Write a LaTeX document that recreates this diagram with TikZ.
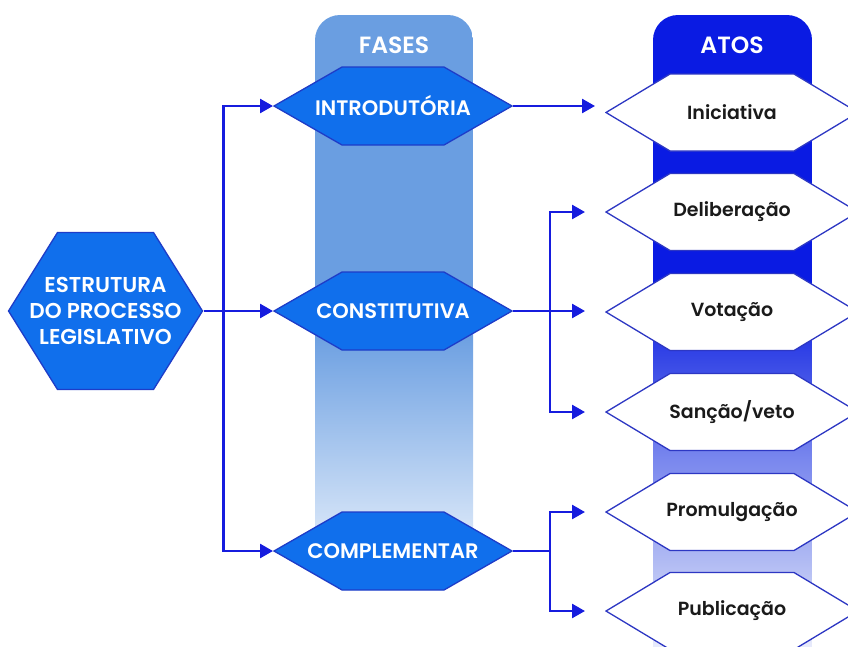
\documentclass[tikz,border=0pt]{standalone}
\usepackage{fontspec}
\setmainfont{Poppins}
\IfFontExistsTF{Poppins SemiBold}{\newfontfamily\semib{Poppins SemiBold}}{\newcommand\semib{\bfseries}}
\usetikzlibrary{arrows.meta}
\definecolor{fasestop}{RGB}{106,158,225}
\definecolor{faseslow}{RGB}{210,226,247}
\definecolor{atostop}{RGB}{10,27,227}
\definecolor{atosmid}{RGB}{55,72,230}
\definecolor{atosla}{RGB}{122,136,238}
\definecolor{atoslb}{RGB}{176,186,243}
\definecolor{atoslc}{RGB}{232,235,251}
\definecolor{hexblue}{RGB}{16,111,236}
\definecolor{hexedge}{RGB}{30,60,200}
\definecolor{lineblue}{RGB}{22,28,222}
\definecolor{atosedge}{RGB}{45,55,195}
\definecolor{txtdark}{RGB}{26,26,26}
\tikzset{
  hexagon/.style n args={4}{minimum width=#1, minimum height=#2, inner sep=0pt, outer sep=0pt,
    path picture={\path[#4]
      ([xshift=1pt]path picture bounding box.west)
      -- ([xshift=#3,yshift=-1pt]path picture bounding box.north west)
      -- ([xshift=-#3,yshift=-1pt]path picture bounding box.north east)
      -- ([xshift=-1pt]path picture bounding box.east)
      -- ([xshift=-#3,yshift=1pt]path picture bounding box.south east)
      -- ([xshift=#3,yshift=1pt]path picture bounding box.south west) -- cycle;}},
  bluepaint/.style={fill=hexblue, draw=hexedge, line width=1.3pt},
  whitepaint/.style={fill=white, draw=atosedge, line width=1.3pt},
  faseshex/.style={hexagon={240pt}{80pt}{69pt}{bluepaint}, text=white, font=\semib\fontsize{21}{25}\selectfont},
  estrhex/.style={hexagon={196pt}{159pt}{50pt}{bluepaint}, text=white, align=center, font=\semib\fontsize{21.5}{26}\selectfont},
  atoshex/.style={hexagon={254pt}{79pt}{65pt}{whitepaint}, text=txtdark, font=\semib\fontsize{19}{23}\selectfont},
  header/.style={text=white, font=\semib\fontsize{23.5}{28}\selectfont},
  conn/.style={draw=lineblue, line width=2.6pt},
  arr/.style={conn, -{Triangle[length=13pt,width=14pt]}},
}
\begin{document}
\begin{tikzpicture}[x=1pt,y=-1pt]
\useasboundingbox (0,0) rectangle (848,646);
% FASES column
\begin{scope}
  \clip[rounded corners=25pt] (315,15) rectangle (473,700);
  \fill[fasestop] (315,15) rectangle (473,330.5);
  \shade[top color=fasestop, bottom color=faseslow] (315,330) rectangle (473,525.5);
  \shade[top color=faseslow, bottom color=white] (315,525) rectangle (473,575);
\end{scope}
% ATOS column
\begin{scope}
  \clip[rounded corners=25pt] (653,15) rectangle (812,700);
  \fill[atostop] (653,15) rectangle (812,290.5);
  \shade[top color=atostop, bottom color=atosmid] (653,290) rectangle (812,360.5);
  \shade[top color=atosmid, bottom color=atosla] (653,360) rectangle (812,460.5);
  \shade[top color=atosla, bottom color=atoslb] (653,460) rectangle (812,560.5);
  \shade[top color=atoslb, bottom color=atoslc] (653,560) rectangle (812,646);
\end{scope}
\node[header] (fasesT) at (394,45) {FASES};
\node[header] (atosT) at (732,45) {ATOS};
% nodes
\node[estrhex] (estr) at (105.5,311) {ESTRUTURA\\DO PROCESSO\\LEGISLATIVO};
\node[faseshex] (intro) at (393,106) {INTRODUTÓRIA};
\node[faseshex] (const) at (393,311) {CONSTITUTIVA};
\node[faseshex] (compl) at (393,551) {COMPLEMENTAR};
\node[atoshex] (inic) at (732,112.5) {Iniciativa};
\node[atoshex] (delib) at (732,212) {Deliberação};
\node[atoshex] (vot) at (732,312) {Votação};
\node[atoshex] (sanc) at (732,412) {Sanção/veto};
\node[atoshex] (prom) at (732,512) {Promulgação};
\node[atoshex] (publ) at (732,611) {Publicação};
% connectors
\draw[arr] (estr.east) -- ++(20,0) |- (intro.west);
\draw[arr] (estr.east) -- ++(20,0) |- (compl.west);
\draw[arr] (estr.east) -- (const.west);
\draw[arr, shorten >=10pt] (intro.east) -- (intro.east -| inic.west);
\draw[arr, shorten >=20pt] (const.east) -- ++(37,0) |- (delib.west);
\draw[arr, shorten >=20pt] (const.east) -- ++(37,0) |- (sanc.west);
\draw[arr, shorten >=20pt] (const.east) -- (const.east -| vot.west);
\draw[arr, shorten >=20pt] (compl.east) -- ++(37,0) |- (prom.west);
\draw[arr, shorten >=20pt] (compl.east) -- ++(37,0) |- (publ.west);
\end{tikzpicture}
\end{document}
